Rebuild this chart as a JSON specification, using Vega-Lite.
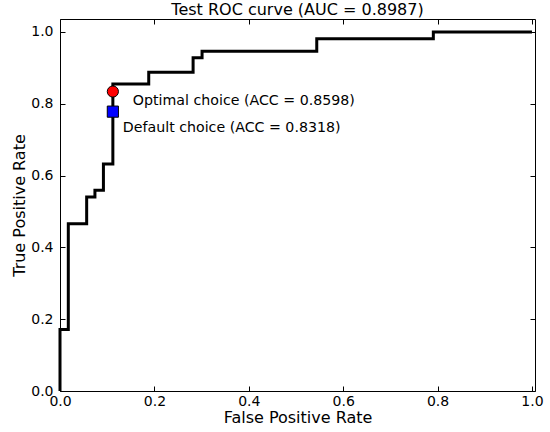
{
  "$schema": "https://vega.github.io/schema/vega-lite/v6.json",
  "width": 475,
  "height": 372,
  "autosize": {"type": "none"},
  "padding": {"left": 60, "top": 19, "right": 15, "bottom": 41},
  "title": {
    "text": "Test ROC curve (AUC = 0.8987)",
    "font": "DejaVu Sans",
    "fontSize": 16,
    "fontWeight": "normal",
    "color": "black",
    "anchor": "middle",
    "offset": 1
  },
  "datasets": {
    "roc": [
      {"fpr": 0.0, "tpr": 0.0},
      {"fpr": 0.0, "tpr": 0.171},
      {"fpr": 0.0176, "tpr": 0.466},
      {"fpr": 0.0565, "tpr": 0.540},
      {"fpr": 0.074, "tpr": 0.559},
      {"fpr": 0.092, "tpr": 0.632},
      {"fpr": 0.112, "tpr": 0.855},
      {"fpr": 0.188, "tpr": 0.888},
      {"fpr": 0.282, "tpr": 0.928},
      {"fpr": 0.301, "tpr": 0.946},
      {"fpr": 0.544, "tpr": 0.981},
      {"fpr": 0.791, "tpr": 1.0},
      {"fpr": 1.0, "tpr": 1.0}
    ],
    "choices": [
      {"name": "Optimal", "fpr": 0.112, "tpr": 0.834, "label": "Optimal choice (ACC = 0.8598)"},
      {"name": "Default", "fpr": 0.112, "tpr": 0.778, "label": "Default choice (ACC = 0.8318)"}
    ]
  },
  "config": {
    "font": "DejaVu Sans",
    "view": {"stroke": "black", "strokeWidth": 1},
    "axis": {
      "grid": false,
      "domain": false,
      "tickColor": "black",
      "tickSize": -5,
      "tickWidth": 1,
      "labelFont": "DejaVu Sans",
      "labelFontSize": 14,
      "labelColor": "black",
      "labelFlush": false,
      "labelOverlap": false,
      "titleFont": "DejaVu Sans",
      "titleFontSize": 16,
      "titleFontWeight": "normal",
      "titleColor": "black"
    }
  },
  "layer": [
    {
      "data": {"name": "roc"},
      "mark": {"type": "line", "interpolate": "step-after", "color": "black", "strokeWidth": 3},
      "encoding": {
        "x": {"field": "fpr", "type": "quantitative", "scale": {"domain": [0, 1.0064], "nice": false}, "axis": {"orient": "bottom", "title": "False Positive Rate", "values": [0, 0.2, 0.4, 0.6, 0.8, 1.0], "format": ".1f", "labelPadding": 8, "titlePadding": 1}},
        "y": {"field": "tpr", "type": "quantitative", "scale": {"domain": [0, 1.036], "nice": false}, "axis": {"orient": "left", "title": "True Positive Rate", "values": [0, 0.2, 0.4, 0.6, 0.8, 1.0], "format": ".1f", "labelPadding": 12, "titlePadding": 3}}
      }
    },
    {
      "data": {"name": "roc"},
      "mark": {"type": "line", "opacity": 0},
      "encoding": {
        "x": {"field": "fpr", "type": "quantitative", "axis": {"orient": "top", "title": null, "labels": false, "values": [0, 0.2, 0.4, 0.6, 0.8, 1.0]}},
        "y": {"field": "tpr", "type": "quantitative", "axis": {"orient": "right", "title": null, "labels": false, "values": [0, 0.2, 0.4, 0.6, 0.8, 1.0]}}
      }
    },
    {
      "data": {"name": "choices"},
      "mark": {"type": "point", "filled": true, "stroke": "black", "strokeWidth": 1, "size": 125, "opacity": 1},
      "encoding": {
        "x": {"field": "fpr", "type": "quantitative", "axis": null},
        "y": {"field": "tpr", "type": "quantitative", "axis": null},
        "shape": {"field": "name", "type": "nominal", "scale": {"domain": ["Optimal", "Default"], "range": ["circle", "square"]}, "legend": null},
        "fill": {"field": "name", "type": "nominal", "scale": {"domain": ["Optimal", "Default"], "range": ["#ff0000", "#0000ff"]}, "legend": null}
      }
    },
    {
      "data": {"name": "choices"},
      "transform": [{"filter": "datum.name === 'Optimal'"}],
      "mark": {"type": "text", "align": "left", "baseline": "middle", "dx": 20, "dy": 9, "fontSize": 14.2, "font": "DejaVu Sans", "color": "black"},
      "encoding": {
        "x": {"field": "fpr", "type": "quantitative", "axis": null},
        "y": {"field": "tpr", "type": "quantitative", "axis": null},
        "text": {"field": "label"}
      }
    },
    {
      "data": {"name": "choices"},
      "transform": [{"filter": "datum.name === 'Default'"}],
      "mark": {"type": "text", "align": "left", "baseline": "middle", "dx": 10, "dy": 16, "fontSize": 14.2, "font": "DejaVu Sans", "color": "black"},
      "encoding": {
        "x": {"field": "fpr", "type": "quantitative", "axis": null},
        "y": {"field": "tpr", "type": "quantitative", "axis": null},
        "text": {"field": "label"}
      }
    }
  ],
  "resolve": {"axis": {"x": "independent", "y": "independent"}}
}
